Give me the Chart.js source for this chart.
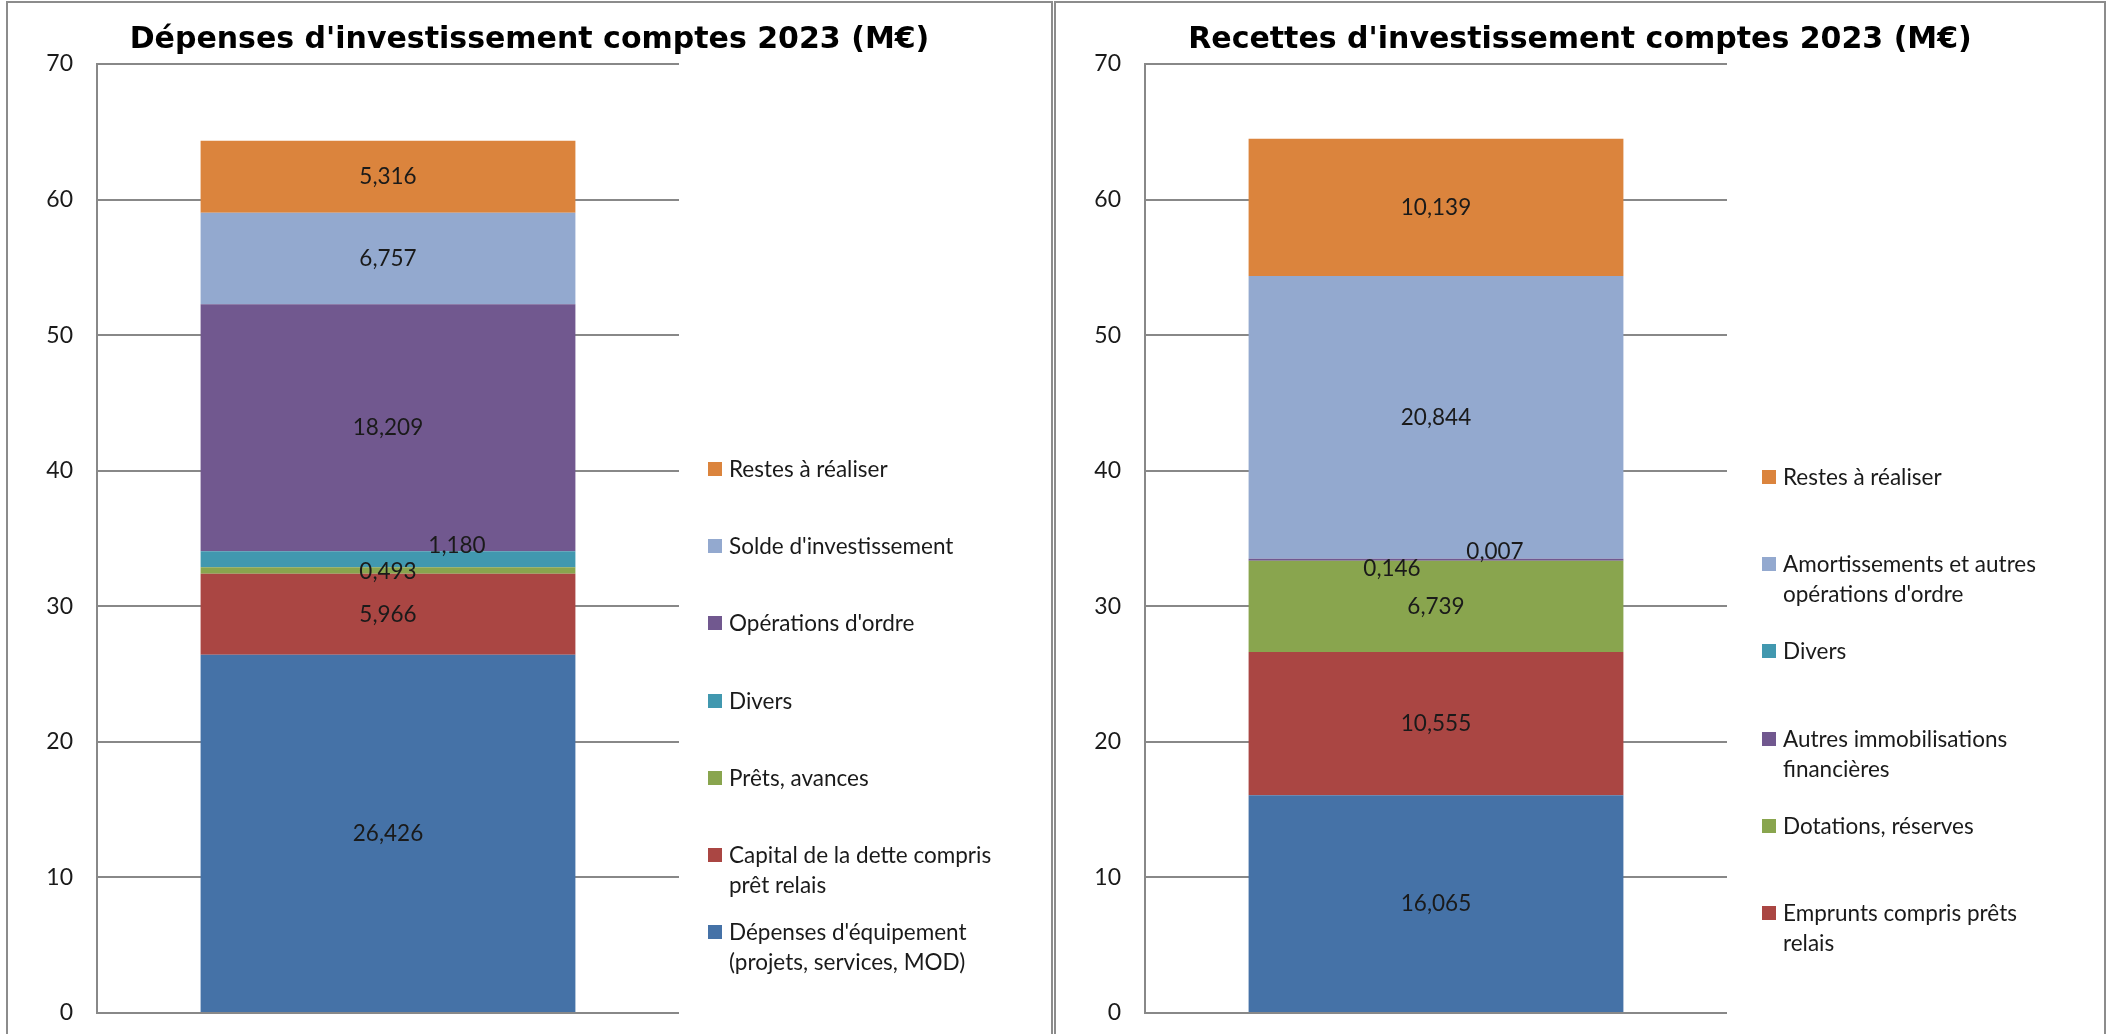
<!DOCTYPE html>
<html>
<head>
<meta charset="utf-8">
<script src="https://cdn.jsdelivr.net/npm/chart.js@4.4.0/dist/chart.umd.min.js"></script>
<style>
  body { margin: 0; width: 2107px; height: 1034px; overflow: hidden; background: #fff; font-family: Lato, sans-serif; }
  .panel { position: absolute; top: 1px; height: 1100px; border: 2px solid #8c8c8c; box-sizing: border-box; }
  #p1 { left: 6px; width: 1047px; }
  #p2 { left: 1054px; width: 1052px; }
  .box { position: absolute; left: 0; top: 0; width: 100%; height: 1031px; }
  .item { position: absolute; font-size: 22.5px; line-height: 30px; color: #1a1a1a; white-space: pre-line; }
  .item i { position: absolute; left: 0; top: 8px; width: 14px; height: 14px; }
  .item span { display: block; margin-left: 21px; }
</style>
</head>
<body>
<div class="panel" id="p1"><div class="box"><canvas id="chart1"></canvas></div><div id="legend1"></div></div>
<div class="panel" id="p2"><div class="box"><canvas id="chart2"></canvas></div><div id="legend2"></div></div>
<script>
// series from bottom to top of each stack
const depLabels = [
  "Dépenses d'équipement\n(projets, services, MOD)",
  "Capital de la dette compris\nprêt relais",
  "Prêts, avances",
  "Divers",
  "Opérations d'ordre",
  "Solde d'investissement",
  "Restes à réaliser",
];
const depValues = [26.426, 5.966, 0.493, 1.180, 18.209, 6.757, 5.316];

// the legend entry of the bottom (blue) series is cut off in the reference
const recLabels = [
  "",
  "Emprunts compris prêts\nrelais",
  "Dotations, réserves",
  "Autres immobilisations\nfinancières",
  "Divers",
  "Amortissements et autres\nopérations d'ordre",
  "Restes à réaliser",
];
const recValues = [16.065, 10.555, 6.739, 0.146, 0.007, 20.844, 10.139];

const depColors = ["#4572A7", "#AA4643", "#89A54E", "#4198AF", "#71588F", "#93A9CF", "#DB843D"];
const recColors = ["#4572A7", "#AA4643", "#89A54E", "#71588F", "#4198AF", "#93A9CF", "#DB843D"];

const yTicks = [0, 10, 20, 30, 40, 50, 60, 70];

const fmt = (v) => v.toFixed(3).replace(".", ",");

const valueLabels = {
  id: "valueLabels",
  afterDatasetsDraw(chart, args, opts) {
    const ctx = chart.ctx;
    ctx.save();
    ctx.font = "22.5px Lato";
    ctx.fillStyle = "#1a1a1a";
    ctx.textAlign = "center";
    ctx.textBaseline = "middle";
    chart.data.datasets.forEach((ds, i) => {
      const off = opts.offsets[i] || [0, 0];
      chart.getDatasetMeta(i).data.forEach((bar, j) => {
        const c = bar.getCenterPoint();
        ctx.fillText(fmt(ds.data[j]), c.x + off[0], c.y + off[1]);
      });
    });
    ctx.restore();
  },
};

function makeChart(id, title, labels, values, colors, padW, offsets) {
  return new Chart(document.getElementById(id), {
    type: "bar",
    data: {
      labels: [""],
      datasets: labels.map((l, i) => ({
        label: l,
        data: [values[i]],
        backgroundColor: colors[i],
        borderWidth: 0,
        categoryPercentage: 1,
        barPercentage: 0.644,
      })),
    },
    options: {
      responsive: true,
      maintainAspectRatio: false,
      animation: false,
      layout: { padding: { left: 0, right: 0, top: 0, bottom: 21 } },
      plugins: {
        legend: { display: false },
        tooltip: { enabled: false },
        title: {
          display: true,
          text: title,
          color: "#000",
          font: { family: "DejaVu Sans", size: 30, weight: "bold" },
          padding: { top: 19, bottom: 6 },
        },
        valueLabels: { offsets: offsets },
      },
      scales: {
        x: { display: false, stacked: true },
        y: {
          stacked: true,
          min: 0,
          max: 70,
          afterBuildTicks: (s) => { s.ticks = yTicks.map((v) => ({ value: v })); },
          afterFit: (s) => { s.width = 89; },
          ticks: { color: "#1a1a1a", padding: 0, font: { family: "Lato", size: 23 } },
          grid: { color: "#888", lineWidth: 2, drawTicks: true, tickLength: 24, tickColor: "rgba(0,0,0,0)" },
          border: { display: true, color: "#888", width: 2 },
        },
        pad: {
          position: "right",
          display: true,
          ticks: { display: false },
          grid: { display: false, drawTicks: false },
          border: { display: false },
          afterFit: (s) => { s.width = padW; },
        },
      },
    },
    plugins: [valueLabels],
  });
}

function buildLegend(chart, el, sqX, top, pitch) {
  const items = chart.data.datasets
    .map((ds) => ds)
    .reverse()
    .filter((ds) => ds.label !== "");
  items.forEach((ds, k) => {
    const d = document.createElement("div");
    d.className = "item";
    d.style.left = sqX + "px";
    d.style.top = (top + k * pitch - 15) + "px";
    const sq = document.createElement("i");
    sq.style.background = ds.backgroundColor;
    const t = document.createElement("span");
    t.textContent = ds.label;
    d.appendChild(sq);
    d.appendChild(t);
    el.appendChild(d);
  });
}

const c1 = makeChart("chart1", "Dépenses d'investissement comptes 2023 (M€)",
  depLabels, depValues, depColors, 372, { 2: [0, 1.5], 3: [69, -13] });
const c2 = makeChart("chart2", "Recettes d'investissement comptes 2023 (M€)",
  recLabels, recValues, recColors, 377, { 3: [-44, 9], 4: [59, -7] });

buildLegend(c1, document.getElementById("legend1"), 700, 466, 77.2);
buildLegend(c2, document.getElementById("legend2"), 706, 474, 87.2);
</script>
</body>
</html>
